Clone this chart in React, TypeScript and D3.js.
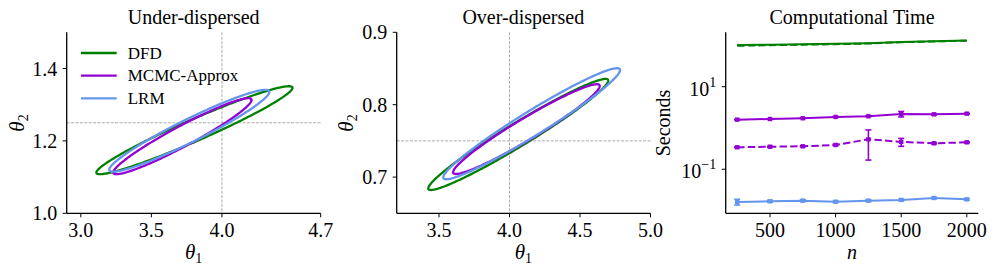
import React from 'react';
import * as d3 from 'd3';

const FONT = '"Liberation Serif", "Times New Roman", serif';

// methods shared by all panels
const methods = ['DFD', 'MCMC-Approx', 'LRM'];
const colors = ['green', 'darkviolet', 'cornflowerblue'];

// under-dispersed contours: centre, half extents, correlation
const underCx = [3.805, 3.72, 3.769];
const underCy = [1.2295, 1.213, 1.228];
const underSx = [0.695, 0.49, 0.567];
const underSy = [0.1215, 0.105, 0.113];
const underRho = [0.963, 0.953, 0.95];

// over-dispersed contours
const overCx = [4.062, 4.12, 4.157];
const overCy = [0.7589, 0.7663, 0.7737];
const overSx = [0.638, 0.52, 0.627];
const overSy = [0.0767, 0.062, 0.0767];
const overRho = [0.97, 0.96, 0.966];

// computational time (seconds)
const nValues = [250, 500, 750, 1000, 1250, 1500, 1750, 2000];
const dfdSolid = [102, 104, 107, 109, 113, 120, 126, 131];
const dfdDashed = [98, 101, 104, 107, 111, 119, 125, 130];
const mcmcSolid = [1.59, 1.65, 1.72, 1.85, 1.92, 2.18, 2.14, 2.22];
const mcmcSolidErr = [0.03, 0.03, 0.03, 0.04, 0.04, 0.33, 0.08, 0.06];
const mcmcDashed = [0.341, 0.352, 0.36, 0.388, 0.532, 0.46, 0.426, 0.45];
const mcmcDashedErr = [0.01, 0.01, 0.01, 0.015, 0.365, 0.1, 0.015, 0.015];
const lrmTime = [0.0162, 0.0168, 0.0174, 0.0164, 0.0174, 0.0181, 0.0202, 0.0187];
const lrmErr = [0.0026, 0.0009, 0.0009, 0.0007, 0.0009, 0.0009, 0.0008, 0.0009];

const top = 32.3;
const bottom = 213.3;

const ellipsePoints = (cx, cy, sx, sy, rho) => {
  const pts = [];
  const k = Math.sqrt(1 - rho * rho);
  for (let i = 0; i < 240; i++) {
    const t = (i / 240) * Math.PI * 2;
    pts.push([cx + sx * Math.cos(t), cy + sy * (rho * Math.cos(t) + k * Math.sin(t))]);
  }
  return pts;
};

const Axes = ({ x, y, xTicks, yTicks, xFmt, yFmt, logY }) => {
  const [x0, x1] = x.range();
  return (
    <g>
      <line x1={x0} x2={x0} y1={top} y2={bottom} stroke="#000" strokeWidth={1.3} />
      <line x1={x0} x2={x1} y1={bottom} y2={bottom} stroke="#000" strokeWidth={1.3} />
      {xTicks.map(t => (
        <g key={'x' + t}>
          <line x1={x(t)} x2={x(t)} y1={bottom} y2={bottom + 4} stroke="#000" strokeWidth={1} />
          <text x={x(t)} y={bottom + 23.5} textAnchor="middle" fontSize={20}>
            {xFmt(t)}
          </text>
        </g>
      ))}
      {yTicks.map(t => (
        <g key={'y' + t}>
          <line x1={x0 - 4} x2={x0} y1={y(t)} y2={y(t)} stroke="#000" strokeWidth={1} />
          {logY ? (
            <text x={x0 - 9.5} y={y(t) + 9} textAnchor="end" fontSize={20}>
              10
              <tspan fontSize={14} dy={-9}>
                {Math.log10(t) < 0 ? '\u2212' + Math.abs(Math.log10(t)) : Math.log10(t)}
              </tspan>
            </text>
          ) : (
            <text x={x0 - 9.5} y={y(t) + 7} textAnchor="end" fontSize={20}>
              {yFmt(t)}
            </text>
          )}
        </g>
      ))}
    </g>
  );
};

const RefLines = ({ x, y, vx, hy }) => {
  const [x0, x1] = x.range();
  return (
    <g stroke="#aaa" strokeWidth={1} strokeDasharray="3,1.4">
      <line x1={x(vx)} x2={x(vx)} y1={top} y2={bottom} />
      <line x1={x0} x2={x1} y1={y(hy)} y2={y(hy)} />
    </g>
  );
};

const Theta = ({ x, y, sub, rotate }) => (
  <text
    x={x}
    y={y}
    textAnchor="middle"
    fontSize={21}
    transform={rotate ? `rotate(-90, ${x}, ${y})` : undefined}
  >
    <tspan fontStyle="italic">θ</tspan>
    <tspan fontSize={14} dy={4}>
      {sub}
    </tspan>
  </text>
);

const EllipsePanel = ({ x, y, cxs, cys, sxs, sys, rhos }) => {
  const line = d3
    .line()
    .x(d => x(d[0]))
    .y(d => y(d[1]))
    .curve(d3.curveLinearClosed);
  return (
    <g>
      {methods.map((m, i) => (
        <path
          key={m}
          d={line(ellipsePoints(cxs[i], cys[i], sxs[i], sys[i], rhos[i]))}
          fill="none"
          stroke={colors[i]}
          strokeWidth={2.3}
        />
      ))}
    </g>
  );
};

const Series = ({ x, y, values, errs, color, dashed, markers }) => {
  const line = d3
    .line()
    .x((d, i) => x(nValues[i]))
    .y(d => y(d));
  return (
    <g>
      <path
        d={line(values)}
        fill="none"
        stroke={color}
        strokeWidth={2}
        strokeDasharray={dashed ? '7.4,3.2' : undefined}
      />
      {errs &&
        values.map((v, i) => (
          <g key={i} stroke={color} strokeWidth={1.6}>
            <line x1={x(nValues[i])} x2={x(nValues[i])} y1={y(v - errs[i])} y2={y(v + errs[i])} />
            <line x1={x(nValues[i]) - 3} x2={x(nValues[i]) + 3} y1={y(v - errs[i])} y2={y(v - errs[i])} />
            <line x1={x(nValues[i]) - 3} x2={x(nValues[i]) + 3} y1={y(v + errs[i])} y2={y(v + errs[i])} />
          </g>
        ))}
      {markers &&
        values.map((v, i) => (
          <rect key={'m' + i} x={x(nValues[i]) - 2.2} y={y(v) - 2.2} width={4.4} height={4.4} fill={color} />
        ))}
    </g>
  );
};

export default function App() {
  const x1 = d3.scaleLinear().domain([2.9, 4.7]).range([66.7, 320.7]);
  const y1 = d3.scaleLinear().domain([1.0, 1.5]).range([bottom, top]);
  const x2 = d3.scaleLinear().domain([3.2, 5.0]).range([396.7, 650.5]);
  const y2 = d3.scaleLinear().domain([0.65, 0.9]).range([bottom, top]);
  const x3 = d3.scaleLinear().domain([162.5, 2087.5]).range([725.7, 978.3]);
  const y3 = d3
    .scaleLog()
    .domain([Math.pow(10, -2.066), Math.pow(10, 2.317)])
    .range([bottom, top]);

  const f1 = d3.format('.1f');

  return (
    <svg
      width={997}
      height={274}
      style={{ position: 'absolute', left: 0, top: 0, background: '#fff' }}
      fontFamily={FONT}
    >
      {/* Under-dispersed */}
      <text x={193.7} y={24} textAnchor="middle" fontSize={20}>
        Under-dispersed
      </text>
      <RefLines x={x1} y={y1} vx={4.0} hy={1.25} />
      <EllipsePanel x={x1} y={y1} cxs={underCx} cys={underCy} sxs={underSx} sys={underSy} rhos={underRho} />
      <Axes x={x1} y={y1} xTicks={[3.0, 3.5, 4.0, 4.7]} yTicks={[1.0, 1.2, 1.4]} xFmt={f1} yFmt={f1} />
      <Theta x={193.7} y={259} sub="1" />
      <Theta x={24} y={123} sub="2" rotate />
      <g>
        {methods.map((m, i) => (
          <g key={m}>
            <line x1={81} x2={116.7} y1={53 + i * 22.7} y2={53 + i * 22.7} stroke={colors[i]} strokeWidth={2.3} />
            <text x={127.7} y={53 + i * 22.7 + 5.5} fontSize={17}>
              {m}
            </text>
          </g>
        ))}
      </g>

      {/* Over-dispersed */}
      <text x={523.3} y={24} textAnchor="middle" fontSize={20}>
        Over-dispersed
      </text>
      <RefLines x={x2} y={y2} vx={4.0} hy={0.75} />
      <EllipsePanel x={x2} y={y2} cxs={overCx} cys={overCy} sxs={overSx} sys={overSy} rhos={overRho} />
      <Axes x={x2} y={y2} xTicks={[3.5, 4.0, 4.5, 5.0]} yTicks={[0.7, 0.8, 0.9]} xFmt={f1} yFmt={f1} />
      <Theta x={523.3} y={259} sub="1" />
      <Theta x={353} y={123} sub="2" rotate />

      {/* Computational time */}
      <text x={852} y={24} textAnchor="middle" fontSize={20}>
        Computational Time
      </text>
      <Series x={x3} y={y3} values={dfdDashed} color={colors[0]} dashed />
      <Series x={x3} y={y3} values={dfdSolid} color={colors[0]} />
      <Series x={x3} y={y3} values={mcmcSolid} errs={mcmcSolidErr} color={colors[1]} markers />
      <Series x={x3} y={y3} values={mcmcDashed} errs={mcmcDashedErr} color={colors[1]} dashed markers />
      <Series x={x3} y={y3} values={lrmTime} errs={lrmErr} color={colors[2]} markers />
      <Axes x={x3} y={y3} xTicks={[500, 1000, 1500, 2000]} yTicks={[0.1, 10]} xFmt={d => String(d)} logY />
      <text x={852} y={259} textAnchor="middle" fontSize={20} fontStyle="italic">
        n
      </text>
      <text x={670} y={123} textAnchor="middle" fontSize={20} transform="rotate(-90, 670, 123)">
        Seconds
      </text>
    </svg>
  );
}
